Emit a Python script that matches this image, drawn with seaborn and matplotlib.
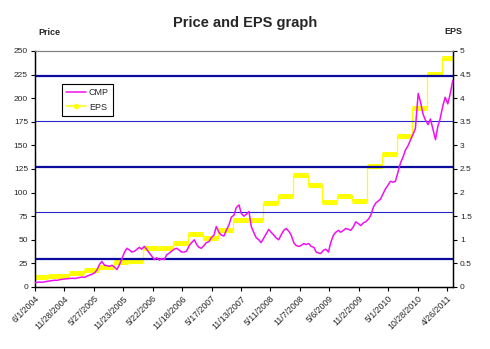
import matplotlib
matplotlib.use("Agg")
import matplotlib.pyplot as plt
import seaborn as sns
import pandas as pd

sns.set_style("white")
plt.rcParams["font.family"] = ["Liberation Sans", "DejaVu Sans"]

# Closing market price, sampled on the 1st and 15th of each month
cmp_start = "2004-06-01"
cmp_values = [
    # 2004 (Jun-Dec)
    4.5, 5.0, 5.2, 5.0, 5.6, 6.0, 6.5, 6.8, 7.2, 7.0, 7.8, 8.2, 8.5, 8.8,
    # 2005
    9.0, 9.3, 9.0, 9.6, 10.0, 10.5, 10.2, 11.5, 12.5, 13.5, 15.0, 18.0,
    24.0, 27.0, 23.0, 22.5, 22.0, 23.0, 21.0, 18.5, 24.0, 30.0, 37.0, 41.0,
    # 2006
    39, 37, 38, 40, 42, 40, 43, 40, 36, 33, 29, 31,
    28.5, 30, 29, 34, 36, 38, 40, 41, 39, 37, 37, 38,
    # 2007
    44, 47, 50, 45, 42, 41, 44, 47, 48, 52, 55, 64,
    58, 55, 54, 60, 66, 74, 76, 84, 87, 78, 75, 77,
    # 2008
    80, 64, 57, 52, 50, 47, 52, 56, 61, 58, 55, 52,
    50, 55, 60, 62, 59, 55, 47, 44, 43, 44, 46, 45,
    # 2009
    46, 43, 42, 37, 36, 35.5, 39, 40, 37, 47, 55, 58,
    60, 58, 60, 62, 61, 60, 64, 69, 67, 65, 68, 69,
    # 2010
    72, 76, 85, 89, 91, 93, 99, 104, 108, 112, 111, 112,
    122, 131, 138, 145, 150, 156, 162, 168, 205, 196, 183, 177,
    # 2011 (Jan-Jun)
    172, 178, 166, 156, 170, 178, 192, 201, 194, 204, 219,
]

# Quarterly EPS: date each figure took effect and its value
eps_dates = [
    "2004-06-01", "2004-08-20", "2004-12-25", "2005-03-25", "2005-06-25",
    "2005-09-25", "2005-12-25", "2006-03-25", "2006-06-25", "2006-09-25",
    "2006-12-25", "2007-03-25", "2007-06-25", "2007-09-25", "2007-12-25",
    "2008-03-25", "2008-06-25", "2008-09-25", "2008-12-25", "2009-03-25",
    "2009-06-25", "2009-09-25", "2009-12-25", "2010-03-25", "2010-06-25",
    "2010-09-25", "2010-12-25", "2011-03-25",
]
eps_values = [
    0.21, 0.24, 0.30, 0.36, 0.43, 0.52, 0.54, 0.82, 0.82, 0.94,
    1.12, 1.04, 1.21, 1.42, 1.42, 1.77, 1.93, 2.37, 2.16, 1.79,
    1.93, 1.82, 2.57, 2.82, 3.20, 3.79, 4.51, 4.86,
]
eps_end = "2011-06-02"

# Reference price bands
band_levels = [30, 79, 127, 175.5, 223]
band_widths = [1.6, 0.8, 1.6, 0.8, 1.6]
band_colors = ["#0B0BA0", "#2626C8", "#0B0BA0", "#2626C8", "#0B0BA0"]

price_ticks = list(range(0, 251, 25))
eps_ticks = [0, 0.5, 1, 1.5, 2, 2.5, 3, 3.5, 4, 4.5, 5]
eps_tick_labels = ["0", "0.5", "1", "1.5", "2", "2.5", "3", "3.5", "4", "4.5", "5"]
date_tick_start = "2004-06-01"
date_tick_count = 15
date_tick_step = "180D"

cmp_df = pd.DataFrame({
    "date": pd.date_range(cmp_start, periods=len(cmp_values), freq="SMS"),
    "CMP": cmp_values,
})
eps_starts = pd.to_datetime(eps_dates)
eps_stops = list(eps_starts[1:]) + [pd.Timestamp(eps_end)]
eps_df = pd.DataFrame({
    "date": list(eps_starts) + [pd.Timestamp(eps_end)],
    "EPS": eps_values + [eps_values[-1]],
})

fig = plt.figure(figsize=(4.9, 3.49), dpi=100)
ax = fig.add_axes([0.0714, 0.1777, 0.8531, 0.6762])
ax2 = ax.twinx()
ax.set_zorder(ax2.get_zorder() + 1)
ax.patch.set_visible(False)
ax2.set_facecolor("#C0C0C0")

# EPS steps: thin risers plus thick bands for each quarter
sns.lineplot(data=eps_df, x="date", y="EPS", ax=ax2, color="#FFFF00",
             lw=0.9, drawstyle="steps-post", legend=False)
ax2.hlines(eps_values, eps_starts, eps_stops, colors="#FFFF00", lw=3.6,
           capstyle="butt")

for lvl, w, c in zip(band_levels, band_widths, band_colors):
    ax.axhline(lvl, color=c, lw=w, zorder=1)

sns.lineplot(data=cmp_df, x="date", y="CMP", ax=ax, color="#F010F0",
             lw=1.1, legend=False, zorder=3)

x0 = pd.Timestamp(date_tick_start)
x1 = pd.Timestamp(eps_end)
ax.set_xlim(x0, x1)
ax.set_ylim(0, 250)
ax2.set_ylim(0, 5)

tick_dates = pd.date_range(date_tick_start, periods=date_tick_count,
                           freq=date_tick_step)
ax.set_xticks(tick_dates)
ax.set_xticklabels([f"{d.month}/{d.day}/{d.year}" for d in tick_dates],
                   rotation=45, ha="right", va="top", rotation_mode="anchor",
                   fontsize=6.3)
ax.set_yticks(price_ticks)
ax.set_yticklabels([str(t) for t in price_ticks], fontsize=6)
ax2.set_yticks(eps_ticks)
ax2.set_yticklabels(eps_tick_labels, fontsize=6)

ax.set_xlabel("")
ax.set_ylabel("")
ax2.set_ylabel("")

for a in (ax, ax2):
    a.tick_params(axis="both", direction="out", length=3, width=0.8,
                  color="black", pad=2)
    for side in ("left", "bottom", "right"):
        a.spines[side].set_color("black")
        a.spines[side].set_linewidth(0.9)
    a.spines["top"].set_color("#808080")
    a.spines["top"].set_linewidth(0.8)
ax.tick_params(axis="y", left=True, right=False)
ax.tick_params(axis="x", bottom=True)
ax2.tick_params(axis="y", right=True, left=False)

fig.text(0.5, 0.935, "Price and EPS graph", ha="center", va="center",
         fontsize=10.5, fontweight="bold")
fig.text(0.078, 0.908, "Price", ha="left", va="center", fontsize=6.5,
         fontweight="bold")
fig.text(0.925, 0.911, "EPS", ha="center", va="center", fontsize=6.5,
         fontweight="bold")

handles = [
    plt.Line2D([], [], color="#F010F0", lw=1.1),
    plt.Line2D([], [], color="#FFFF00", lw=1.1, marker="o", markersize=3),
]
leg = ax.legend(handles, ["CMP", "EPS"], loc="upper left",
                bbox_to_anchor=(0.065, 0.86), borderaxespad=0, fontsize=6.5,
                frameon=True, fancybox=False, framealpha=1, edgecolor="black",
                handlelength=2.2, handletextpad=0.3, borderpad=0.45,
                labelspacing=0.6)
leg.get_frame().set_linewidth(0.8)

fig.savefig("out.png", dpi=100, facecolor="white")
